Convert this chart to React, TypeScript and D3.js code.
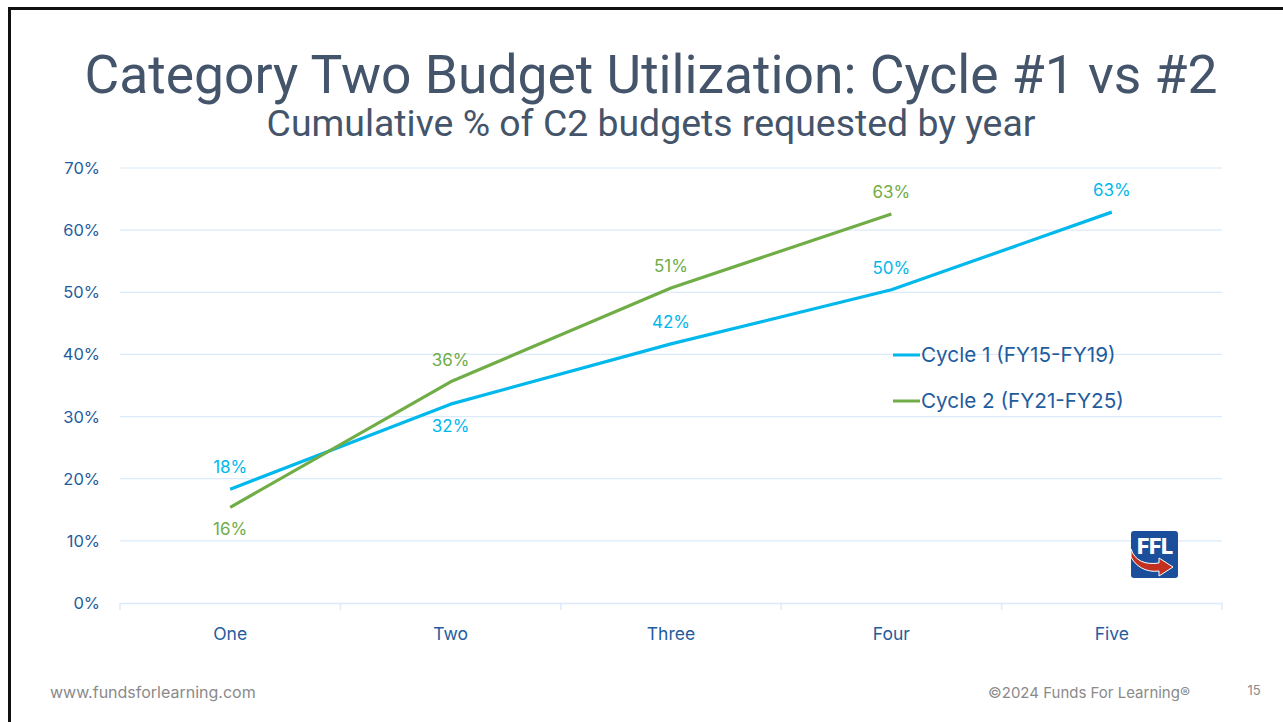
import React, { useEffect, useRef } from 'react';
import * as d3 from 'd3';

const years = ['One', 'Two', 'Three', 'Four', 'Five'];
const cycle1 = [18.3, 32.0, 41.7, 50.4, 62.9];
const cycle2 = [15.4, 35.6, 50.7, 62.6];
const cycle1Labels = ['18%', '32%', '42%', '50%', '63%'];
const cycle2Labels = ['16%', '36%', '51%', '63%'];
// label placement per point: 'up' or 'down'
const cycle1Pos = ['up', 'down', 'up', 'up', 'up'];
const cycle2Pos = ['down', 'up', 'up', 'up'];
const yTicks = [0, 10, 20, 30, 40, 50, 60, 70];

const W = 1283;
const H = 722;
const C1 = '#00B8EC';
const C2 = '#70AD47';
const AXIS_TEXT = '#1F5C9E';
const GRID = '#DCEBFA';
const labelFont = 'Inter, "Noto Sans", sans-serif';

const App: React.FC = () => {
  const svgRef = useRef<SVGSVGElement>(null);

  useEffect(() => {
    if (!svgRef.current) return;
    const svg = d3.select(svgRef.current);
    svg.selectAll('*').remove();

    const margin = { top: 168, right: 61, bottom: 119, left: 120 };

    const x = d3.scaleBand<string>()
      .domain(years)
      .range([margin.left, W - margin.right]);

    const y = d3.scaleLinear()
      .domain([0, 70])
      .range([H - margin.bottom, margin.top]);

    // slide frame
    svg.append('rect')
      .attr('x', 9.5).attr('y', 8.5)
      .attr('width', W + 20).attr('height', H + 20)
      .attr('fill', 'none')
      .attr('stroke', '#111')
      .attr('stroke-width', 3);

    // title
    svg.append('text')
      .attr('x', 651).attr('y', 93)
      .attr('text-anchor', 'middle')
      .attr('fill', '#44546A')
      .style('font-family', 'Roboto, sans-serif')
      .style('font-size', '53.4px')
      .text('Category Two Budget Utilization: Cycle #1 vs #2');

    svg.append('text')
      .attr('x', 651).attr('y', 136)
      .attr('text-anchor', 'middle')
      .attr('fill', '#44546A')
      .style('font-family', 'Roboto, sans-serif')
      .style('font-size', '37.4px')
      .text('Cumulative % of C2 budgets requested by year');

    // grid
    const grid = svg.append('g');
    grid.selectAll('line')
      .data(yTicks.filter(t => t > 0))
      .enter().append('line')
      .attr('x1', margin.left).attr('x2', W - margin.right)
      .attr('y1', d => y(d)).attr('y2', d => y(d))
      .attr('stroke', GRID)
      .attr('stroke-width', 1.2);

    // x axis
    const xAxis = svg.append('g')
      .attr('transform', `translate(0,${y(0)})`)
      .call(d3.axisBottom(x).tickSize(0).tickPadding(0).tickFormat(() => ''));
    xAxis.select('.domain').attr('stroke', GRID).attr('stroke-width', 1.5);
    xAxis.selectAll('.tick').remove();

    const bounds = years.map(yr => x(yr)!).concat([W - margin.right]);
    svg.append('g').selectAll('line')
      .data(bounds)
      .enter().append('line')
      .attr('x1', d => d).attr('x2', d => d)
      .attr('y1', y(0)).attr('y2', y(0) + 7)
      .attr('stroke', GRID).attr('stroke-width', 1.5);

    svg.append('g').selectAll('text')
      .data(years)
      .enter().append('text')
      .attr('x', d => x(d)! + x.bandwidth() / 2)
      .attr('y', y(0) + 37)
      .attr('text-anchor', 'middle')
      .attr('fill', AXIS_TEXT)
      .style('font-family', labelFont)
      .style('font-size', '17.5px')
      .text(d => d);

    // y labels
    svg.append('g').selectAll('text')
      .data(yTicks)
      .enter().append('text')
      .attr('x', 100)
      .attr('y', d => y(d) + 6)
      .attr('text-anchor', 'end')
      .attr('fill', AXIS_TEXT)
      .style('font-family', labelFont)
      .style('font-size', '16.5px')
      .text(d => `${d}%`);

    const cx = (i: number) => x(years[i])! + x.bandwidth() / 2;
    const line = d3.line<number>()
      .x((_, i) => cx(i))
      .y(d => y(d));

    const drawSeries = (vals: number[], labels: string[], pos: string[], color: string) => {
      svg.append('path')
        .datum(vals)
        .attr('d', line)
        .attr('fill', 'none')
        .attr('stroke', color)
        .attr('stroke-width', 3.2)
        .attr('stroke-linejoin', 'round');

      svg.append('g').selectAll('text')
        .data(vals)
        .enter().append('text')
        .attr('x', (_, i) => cx(i))
        .attr('y', (d, i) => y(d) + (pos[i] === 'up' ? -16 : 28))
        .attr('text-anchor', 'middle')
        .attr('fill', color)
        .style('font-family', labelFont)
        .style('font-size', '17px')
        .text((_, i) => labels[i]);
    };

    drawSeries(cycle1, cycle1Labels, cycle1Pos, C1);
    drawSeries(cycle2, cycle2Labels, cycle2Pos, C2);

    // legend
    const legend = [
      { name: 'Cycle 1 (FY15-FY19)', color: C1 },
      { name: 'Cycle 2 (FY21-FY25)', color: C2 },
    ];
    const lg = svg.append('g').attr('transform', 'translate(893,355)');
    legend.forEach((d, i) => {
      lg.append('line')
        .attr('x1', 0).attr('x2', 27)
        .attr('y1', i * 46).attr('y2', i * 46)
        .attr('stroke', d.color).attr('stroke-width', 3);
      lg.append('text')
        .attr('x', 28).attr('y', i * 46 + 7)
        .attr('fill', AXIS_TEXT)
        .style('font-family', labelFont)
        .style('font-size', '20.7px')
        .text(d.name);
    });

    // logo
    const logo = svg.append('g').attr('transform', 'translate(1131,531)');
    logo.append('rect')
      .attr('width', 47).attr('height', 47).attr('rx', 3)
      .attr('fill', '#1B4F9C');
    logo.append('text')
      .attr('x', 24).attr('y', 23)
      .attr('text-anchor', 'middle')
      .attr('fill', '#fff')
      .style('font-family', 'Roboto, sans-serif')
      .style('font-weight', 900)
      .style('font-size', '22px')
      .text('FFL');
    logo.append('path')
      .attr('d', 'M0,18 C4,30 14,34 28,32 L28,27 L42,36 L28,45 L28,40 C14,42 4,34 0,26 Z')
      .attr('fill', '#C2311F')
      .attr('stroke', '#fff')
      .attr('stroke-width', 1);

    // footer
    svg.append('text')
      .attr('x', 50).attr('y', 698)
      .attr('fill', '#8A8A8A')
      .style('font-family', labelFont)
      .style('font-size', '16px')
      .text('www.fundsforlearning.com');
    svg.append('text')
      .attr('x', 1190).attr('y', 698)
      .attr('text-anchor', 'end')
      .attr('fill', '#8A8A8A')
      .style('font-family', labelFont)
      .style('font-size', '15px')
      .text('©2024 Funds For Learning®');
    svg.append('text')
      .attr('x', 1254).attr('y', 695)
      .attr('text-anchor', 'middle')
      .attr('fill', '#8A8A8A')
      .style('font-family', labelFont)
      .style('font-size', '13px')
      .text('15');
  }, []);

  return (
    <svg
      ref={svgRef}
      width={W}
      height={H}
      viewBox={`0 0 ${W} ${H}`}
      style={{ position: 'absolute', left: 0, top: 0, background: '#fff' }}
    />
  );
};

export default App;
